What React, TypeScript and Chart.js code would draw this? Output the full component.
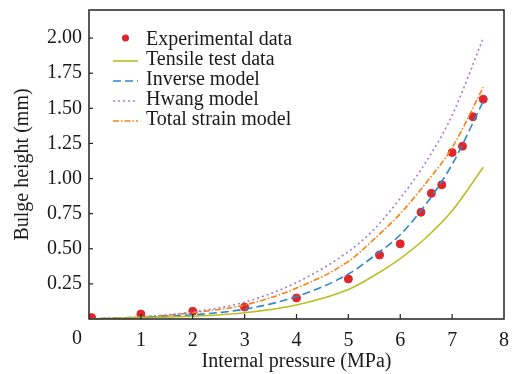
import React, { useEffect, useRef } from "react";
import { Chart, registerables } from "chart.js";

Chart.register(...registerables);

const xTicks = [0, 1, 2, 3, 4, 5, 6, 7, 8];
const yTicks = [0.25, 0.5, 0.75, 1.0, 1.25, 1.5, 1.75, 2.0];

const expPressure = [0.05, 1, 2, 3, 4, 5, 5.6, 6, 6.4, 6.6, 6.8, 7, 7.2, 7.4, 7.6];
const expHeight = [0.01, 0.035, 0.055, 0.085, 0.15, 0.285, 0.455, 0.535, 0.76, 0.895, 0.955, 1.185, 1.23, 1.44, 1.565];

const modelPressure = [0, 1, 2, 3, 4, 5, 5.5, 6, 6.5, 7, 7.6];
const tensile = [0, 0.01, 0.02, 0.045, 0.1, 0.21, 0.31, 0.43, 0.58, 0.77, 1.08];
const inverse = [0, 0.012, 0.03, 0.07, 0.16, 0.32, 0.45, 0.6, 0.82, 1.1, 1.55];
const hwang = [0, 0.015, 0.05, 0.12, 0.26, 0.48, 0.64, 0.86, 1.12, 1.45, 2.0];
const totalStrain = [0, 0.014, 0.045, 0.1, 0.22, 0.41, 0.57, 0.75, 0.97, 1.22, 1.65];

const FONT = "'Liberation Serif', 'Times New Roman', serif";
const TEXT = "#1a1a1a";

const pts = (xs: number[], ys: number[]) => xs.map((x, i) => ({ x, y: ys[i] }));

const legendItems = [
  { label: "Experimental data", color: "#e0262a", kind: "dot", dash: [] as number[] },
  { label: "Tensile test data", color: "#bcbd22", kind: "line", dash: [] as number[] },
  { label: "Inverse model", color: "#2f86cc", kind: "line", dash: [8, 4] },
  { label: "Hwang model", color: "#a678dc", kind: "line", dash: [2, 3] },
  { label: "Total strain model", color: "#ff7f0e", kind: "line", dash: [6, 2, 1.5, 2] },
];

const decorPlugin = {
  id: "decor",
  afterDatasetsDraw(chart: any) {
    const { ctx, chartArea, scales } = chart;
    const { left, right, top, bottom } = chartArea;
    ctx.save();
    ctx.strokeStyle = "#222";
    ctx.lineWidth = 1.2;
    ctx.setLineDash([]);
    for (const v of xTicks) {
      const px = scales.x.getPixelForValue(v);
      if (px <= left + 1 || px >= right - 1) continue;
      ctx.beginPath();
      ctx.moveTo(px, bottom);
      ctx.lineTo(px, bottom - 5);
      ctx.stroke();
    }
    for (const v of yTicks) {
      const py = scales.y.getPixelForValue(v);
      ctx.beginPath();
      ctx.moveTo(left, py);
      ctx.lineTo(left + 4, py);
      ctx.stroke();
    }
    ctx.lineWidth = 1.5;
    ctx.strokeRect(left, top, right - left, bottom - top);
    ctx.fillStyle = TEXT;
    ctx.font = `20px ${FONT}`;
    ctx.textAlign = "center";
    ctx.textBaseline = "top";
    ctx.fillText("0", left - 12, bottom + 10);
    const lx = left + 24;
    const ly = top + 30;
    ctx.textAlign = "left";
    ctx.textBaseline = "middle";
    legendItems.forEach((it, i) => {
      const cy = ly + i * 20;
      if (it.kind === "dot") {
        ctx.fillStyle = it.color;
        ctx.beginPath();
        ctx.arc(lx + 12.5, cy - 2, 3.5, 0, Math.PI * 2);
        ctx.fill();
      } else {
        ctx.strokeStyle = it.color;
        ctx.lineWidth = 1.6;
        ctx.setLineDash(it.dash);
        ctx.beginPath();
        ctx.moveTo(lx, cy + 1);
        ctx.lineTo(lx + 25, cy + 1);
        ctx.stroke();
        ctx.setLineDash([]);
      }
      ctx.fillStyle = TEXT;
      ctx.fillText(it.label, lx + 33, cy);
    });
    ctx.restore();
  },
};

export default function App() {
  const ref = useRef<HTMLCanvasElement | null>(null);
  useEffect(() => {
    if (!ref.current) return;
    const lineDs = (label: string, data: number[], color: string, dash: number[]) => ({
      type: "line" as const,
      label,
      data: pts(modelPressure, data),
      borderColor: color,
      backgroundColor: color,
      borderWidth: 1.6,
      borderDash: dash,
      pointRadius: 0,
      cubicInterpolationMode: "monotone" as const,
      fill: false,
    });
    const chart = new Chart(ref.current, {
      type: "scatter",
      data: {
        datasets: [
          lineDs("Tensile test data", tensile, "#bcbd22", []),
          lineDs("Inverse model", inverse, "#2f86cc", [8, 4]),
          lineDs("Hwang model", hwang, "#a678dc", [2, 3]),
          lineDs("Total strain model", totalStrain, "#ff7f0e", [6, 2, 1.5, 2]),
          {
            type: "scatter" as const,
            label: "Experimental data",
            data: pts(expPressure, expHeight),
            backgroundColor: "#e0262a",
            borderColor: "#e0262a",
            pointRadius: 4,
            showLine: false,
          },
        ] as any,
      },
      options: {
        animation: false,
        responsive: true,
        maintainAspectRatio: false,
        layout: { padding: { top: 10, right: 10, left: 0, bottom: 0 } },
        plugins: { legend: { display: false }, tooltip: { enabled: false } },
        scales: {
          x: {
            type: "linear",
            min: 0,
            max: 8,
            afterBuildTicks: (s: any) => { s.ticks = xTicks.map((v) => ({ value: v })); },
            afterFit: (s: any) => { s.height = 55; s.paddingLeft = 0; s.paddingRight = 0; },
            grid: { display: false, drawTicks: false },
            border: { display: false },
            ticks: {
              padding: 10,
              color: TEXT,
              font: { family: FONT, size: 20 },
              maxRotation: 0,
              callback: (v: any) => (v === 0 ? "" : String(v)),
            },
            title: {
              display: true,
              text: "Internal pressure (MPa)",
              color: TEXT,
              font: { family: FONT, size: 20 },
              padding: { top: 0, bottom: 0 },
            },
          },
          y: {
            type: "linear",
            min: 0,
            max: 2.2,
            afterBuildTicks: (s: any) => { s.ticks = yTicks.map((v) => ({ value: v })); },
            afterFit: (s: any) => { s.width = 89; s.paddingTop = 0; s.paddingBottom = 0; },
            grid: { display: false, drawTicks: false },
            border: { display: false },
            ticks: {
              padding: 7,
              color: TEXT,
              font: { family: FONT, size: 20 },
              callback: (v: any) => Number(v).toFixed(2),
            },
            title: {
              display: true,
              text: "Bulge height (mm)",
              color: TEXT,
              font: { family: FONT, size: 20 },
              padding: { top: 11, bottom: 0 },
            },
          },
        },
      },
      plugins: [decorPlugin],
    });
    return () => chart.destroy();
  }, []);
  return (
    <div style={{ position: "fixed", left: 0, top: 0, width: 514, height: 374, background: "#fff" }}>
      <canvas ref={ref} />
    </div>
  );
}
